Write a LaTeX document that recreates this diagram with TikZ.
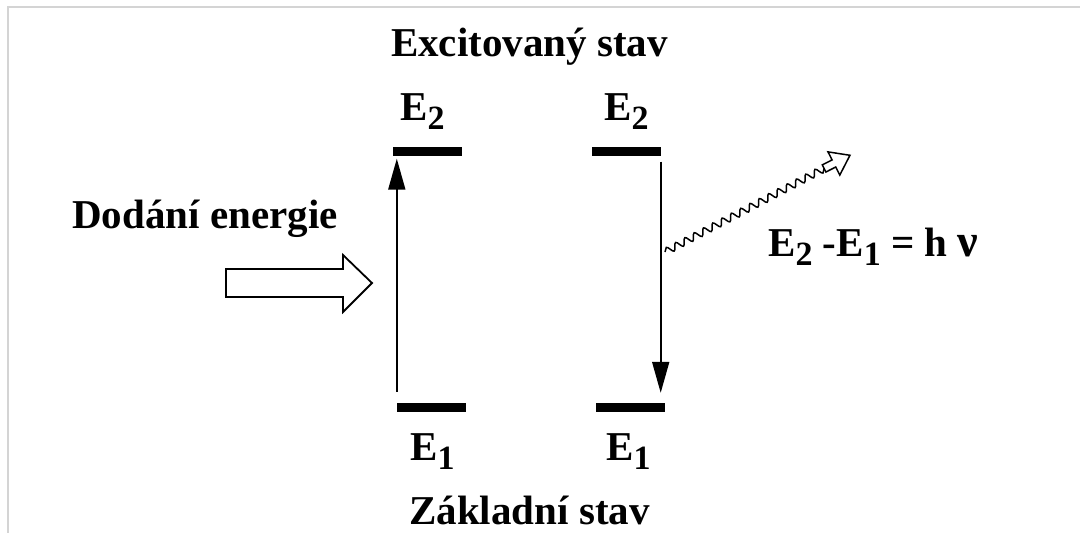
\documentclass[tikz,border=0pt]{standalone}
\usepackage{fontspec}
\setmainfont{Liberation Serif}
\usetikzlibrary{arrows.meta,decorations.pathmorphing}
\definecolor{framegray}{RGB}{212,212,212}

\newcommand{\lvsub}[1]{\raisebox{-9pt}{\fontsize{34}{34}\selectfont #1}}

\tikzset{
  levelbar/.style={rectangle, fill=black, inner sep=0pt, minimum width=69pt, minimum height=9pt},
  lbl/.style={inner sep=0pt, font=\fontsize{41}{46}\selectfont\bfseries},
  jump/.style={line width=1.8pt, -{Triangle[length=31pt,width=17pt]}},
}

\begin{document}
\begin{tikzpicture}[x=1pt,y=-1pt]
    \useasboundingbox (0,0) rectangle (1080,533);
    % frame remains
    \draw[framegray, line width=1.5pt] (1080,7) -- (8,7) -- (8,533);

    % energy levels
    \node[levelbar] (e2a) at (427.5,151) {};
    \node[levelbar] (e2b) at (626,151) {};
    \node[levelbar] (e1a) at (431.5,407.5) {};
    \node[levelbar] (e1b) at (630.5,407.5) {};

    % texts
    \node[lbl, anchor=base] (top) at (529.5,56) {Excitovaný stav};
    \node[lbl, anchor=base] (bottom) at (529.5,524) {Základní stav};
    \node[lbl, anchor=base west] (l2a) at (400,120) {E\lvsub{2}};
    \node[lbl, anchor=base west] (l2b) at (604,120) {E\lvsub{2}};
    \node[lbl, anchor=base west] (l1a) at (410,460) {E\lvsub{1}};
    \node[lbl, anchor=base west] (l1b) at (606,460) {E\lvsub{1}};
    \node[lbl, anchor=base] (supply) at (205,228) {Dodání energie};
    \node[lbl, anchor=base west] (photon) at (768,256) {E\lvsub{2} -E\lvsub{1} = h {\fontsize{46}{46}\selectfont ν}};

    % energy supply arrow
    \draw[line width=1.8pt, fill=white] (226,269) -- (343,269) -- (343,255) -- (372,283)
        -- (343,312) -- (343,297) -- (226,297) -- cycle;

    % transitions
    \draw[jump, shorten <=11pt, shorten >=3pt] (e1a.north west) -- (e1a.north west |- e2a.south);
    \draw[jump, shorten <=6pt, shorten >=10pt] (e2b.south east) -- (e2b.south east |- e1b.north);

    % emitted photon
    \coordinate (ws) at (665,252);
    \coordinate (we) at (825,168);
    \draw[line width=1.5pt, decorate, decoration={snake, amplitude=3.5pt, segment length=10.5pt}] (ws) -- (we);
    \begin{scope}[shift={(we)}, rotate=27]
        \draw[line width=1.5pt, fill=white] (-1,-4) -- (10,-4) -- (10,-13) -- (28,0)
            -- (10,13) -- (10,4) -- (-1,4) -- cycle;
    \end{scope}
\end{tikzpicture}
\end{document}
